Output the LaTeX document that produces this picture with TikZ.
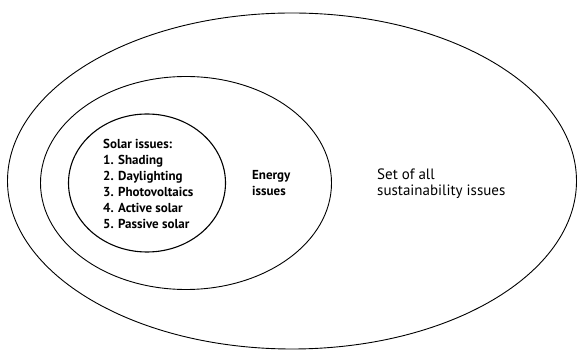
\documentclass[tikz,border=0pt]{standalone}
\usepackage{fontspec}
\setmainfont{PT Sans}
\usetikzlibrary{shapes.geometric}

\begin{document}
\begin{tikzpicture}[x=1pt,y=-1pt,
		set/.style={draw,ellipse,inner sep=0pt,line width=0.9pt},
		label/.style={anchor=north west,inner sep=0pt,align=left,font=\fontsize{15}{16}\selectfont},
		boldlabel/.style={label,font=\bfseries\fontsize{13}{16}\selectfont}]
		\useasboundingbox (0,0) rectangle (579,352);
		\node[set,minimum width=569pt,minimum height=336pt] (all) at (292,181) {};
		\node[set,minimum width=291pt,minimum height=213pt] (energy) at (186,183) {};
		\node[set,line width=1.1pt,minimum width=157pt,minimum height=138pt] (solar) at (147,183) {};
		\node[boldlabel] (solartext) at (103,139)
		    {Solar issues:\\1. Shading\\2. Daylighting\\3. Photovoltaics\\4. Active solar\\5. Passive solar};
		\node[boldlabel] (energytext) at (252,170) {Energy\\issues};
		\node[label] (alltext) at (377,169) {Set of all\\sustainability issues};
	\end{tikzpicture}
\end{document}
